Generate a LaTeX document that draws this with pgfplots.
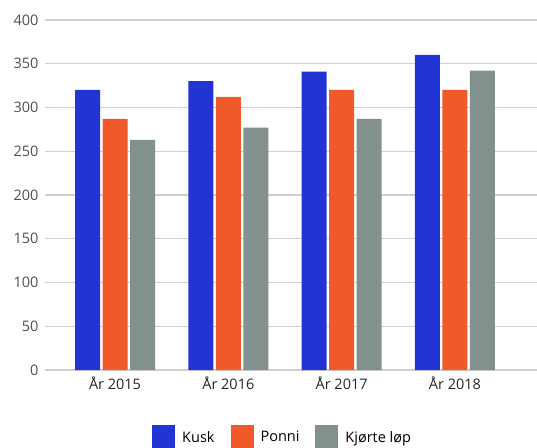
\documentclass[border=0pt]{standalone}
\usepackage{fontspec}
\setmainfont{Open Sans}
\usepackage{pgfplots}
\pgfplotsset{compat=1.18}

\definecolor{kusk}{RGB}{35,52,212}
\definecolor{ponni}{RGB}{240,90,40}
\definecolor{kjort}{RGB}{131,145,142}
\definecolor{gridgray}{RGB}{208,208,208}
\definecolor{labgray}{RGB}{80,80,80}

\begin{document}
\begin{tikzpicture}
\begin{axis}[
  at={(0,0)}, anchor=south west,
  width=492bp, height=350bp,
  scale only axis,
  ybar=2.5bp,
  bar width=25bp,
  xmin=-0.618, xmax=3.724,
  ymin=0, ymax=400,
  ytick={0,50,...,400},
  xtick={0,1,2,3},
  xticklabels={År 2015, År 2016, År 2017, År 2018},
  minor xtick={-0.5,0.5,1.5,2.5,3.5},
  axis line style={draw=none},
  ymajorgrids,
  grid style={gridgray, line width=1.2bp},
  major tick length=0pt,
  minor tick length=4bp,
  xtick style={draw=none},
  minor tick style={gridgray, line width=1bp, yshift=-4bp},
  tick label style={font=\fontsize{14.5bp}{17bp}\selectfont},
  yticklabel style={labgray, xshift=-3bp},
  xticklabel style={black!85, yshift=-3bp},
  /pgf/number format/assume math mode=true,
  legend columns=3,
  legend style={
    at={(0.483,-0.191)}, anchor=center,
    draw=none, fill=none,
    font=\fontsize{14.5bp}{17bp}\selectfont,
    /tikz/every even column/.append style={column sep=14bp},
  },
  legend image code/.code={\fill[#1] (0bp,-11bp) rectangle (23bp,12bp); \path (28bp,0bp);},
]
\addplot[fill=kusk, draw=none] coordinates {(0,320) (1,330) (2,341) (3,360)};
\addlegendentry{Kusk}
\addplot[fill=ponni, draw=none] coordinates {(0,287) (1,312) (2,320) (3,320)};
\addlegendentry{Ponni}
\addplot[fill=kjort, draw=none] coordinates {(0,263) (1,277) (2,287) (3,342)};
\addlegendentry{Kjørte løp}
\end{axis}
\pgfresetboundingbox
\path (-45bp,-78bp) rectangle (492bp,370bp);
\end{tikzpicture}
\end{document}
